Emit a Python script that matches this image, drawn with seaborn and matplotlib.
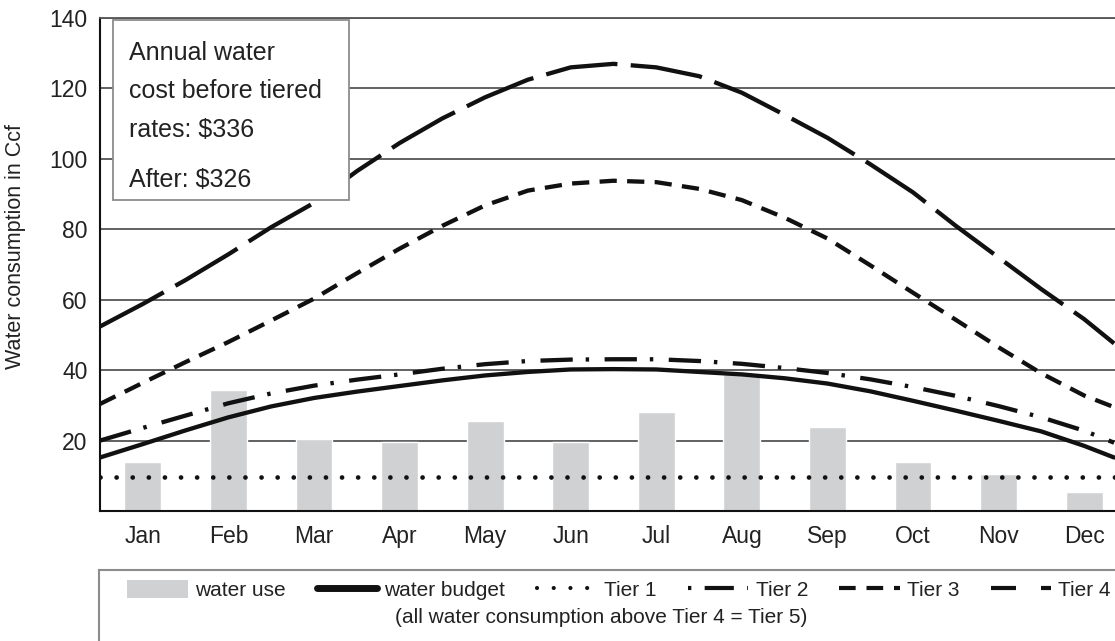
import matplotlib
matplotlib.use("Agg")
import matplotlib.pyplot as plt
from matplotlib.lines import Line2D
from matplotlib.patches import Patch, Rectangle
import seaborn as sns
import pandas as pd

# monthly water use (bars)
months = ['Jan', 'Feb', 'Mar', 'Apr', 'May', 'Jun', 'Jul', 'Aug', 'Sep', 'Oct', 'Nov', 'Dec']
water_use = [14, 34.5, 20.5, 19.5, 25.5, 19.5, 28, 39, 24, 14, 10.5, 5.5]

# curves read at half-month steps (0 = Jan)
curve_pos = [-0.5, 0, 0.5, 1, 1.5, 2, 2.5, 3, 3.5, 4, 4.5, 5, 5.5,
             6, 6.5, 7, 7.5, 8, 8.5, 9, 9.5, 10, 10.5, 11, 11.35]
water_budget = [15.2, 19, 22.9, 26.6, 29.7, 32.1, 33.9, 35.5, 37.1, 38.5, 39.5, 40.2, 40.3,
                40.2, 39.5, 38.8, 37.7, 36.2, 34, 31.3, 28.5, 25.6, 22.6, 18.5, 15.2]
tier1_pos = [-0.5, 11.5]
tier1 = [9.6, 9.6]
tier2 = [20, 23.6, 27.1, 30.6, 33.4, 35.6, 37.3, 38.8, 40.4, 41.7, 42.6, 43, 43.1,
         43.1, 42.6, 41.8, 40.6, 39.2, 37.4, 35.2, 32.7, 29.8, 26.6, 22.8, 19.4]
tier3 = [30.4, 36.4, 42.3, 48, 54.1, 60.3, 67.5, 74.5, 81, 86.8, 91, 93, 93.8,
         93.4, 91.5, 88.3, 83.3, 77.4, 69.8, 62, 54.3, 46.5, 39.1, 32.8, 29.5]
tier4 = [52.4, 58.8, 65.6, 72.9, 80.6, 87.5, 96.5, 104.5, 111.5, 117.5, 122.5, 126, 127,
         126, 123.5, 118.8, 112.5, 106, 98.5, 90.5, 81, 72, 63, 54.5, 47.6]

sns.set_theme(style="white")
plt.rcParams['font.family'] = ['Liberation Sans', 'DejaVu Sans']
text_col = '#222222'
bar_col = '#cfd1d3'
line_col = '#111111'

fig = plt.figure(figsize=(11.15, 6.41), dpi=100)
ax = fig.add_axes([0.0897, 0.2028, 0.921, 0.769])

bars = pd.DataFrame({'month': months, 'use': water_use})
sns.barplot(data=bars, x='month', y='use', color=bar_col, saturation=1,
            width=0.43, ax=ax, zorder=2)

curves = pd.DataFrame({'pos': curve_pos, 'budget': water_budget,
                       'tier2': tier2, 'tier3': tier3, 'tier4': tier4})
t1 = pd.DataFrame({'pos': tier1_pos, 'tier1': tier1})

sns.lineplot(data=t1, x='pos', y='tier1', color=line_col, linewidth=3.4,
             linestyle=(0, (0.01, 3.4)), dash_capstyle='round', ax=ax, zorder=4)
sns.lineplot(data=curves, x='pos', y='budget', color=line_col, linewidth=3.1, ax=ax, zorder=4)
sns.lineplot(data=curves, x='pos', y='tier2', color=line_col, linewidth=3.1,
             linestyle=(0, (7.5, 3.0, 0.8, 3.6)), ax=ax, zorder=4)
sns.lineplot(data=curves, x='pos', y='tier3', color=line_col, linewidth=3.1,
             linestyle=(0, (4.0, 2.4)), ax=ax, zorder=4)
sns.lineplot(data=curves, x='pos', y='tier4', color=line_col, linewidth=3.1,
             linestyle=(0, (16.8, 3.1)), ax=ax, zorder=4)

ax.set_xlim(-0.5, 11.5)
ax.set_ylim(0, 140)
ax.set_yticks([20, 40, 60, 80, 100, 120, 140])
ax.yaxis.grid(True, color='#555555', linewidth=1.3)
ax.set_axisbelow(True)
ax.tick_params(axis='both', length=0, labelsize=16.5, colors=text_col)
ax.tick_params(axis='y', pad=9)
ax.tick_params(axis='x', pad=10)
ax.set_xlabel('')
ax.set_ylabel('Water consumption in Ccf', fontsize=15.5, color=text_col)
ax.yaxis.set_label_coords(-0.072, 0.537)
for side in ['left', 'bottom']:
    ax.spines[side].set_color('#111111')
    ax.spines[side].set_linewidth(1.5)
ax.spines['top'].set_color('#555555')
ax.spines['top'].set_linewidth(1.3)
ax.spines['right'].set_visible(False)

# cost box
ax.add_patch(Rectangle((0.0127, 0.631), 0.23, 0.365, transform=ax.transAxes,
                       facecolor='white', edgecolor='#8c8c8c', linewidth=1.3,
                       zorder=6, clip_on=False))
box_lines = ['Annual water', 'cost before tiered', 'rates: $336', 'After: $326']
box_y = [0.915, 0.838, 0.759, 0.657]
for txt, yy in zip(box_lines, box_y):
    ax.text(0.028, yy, txt, transform=ax.transAxes, fontsize=18, color=text_col,
            va='baseline', ha='left', zorder=7)

# legend panel
lax = fig.add_axes([0.0888, -0.06, 0.95, 0.171])
lax.set_xticks([])
lax.set_yticks([])
for sp in lax.spines.values():
    sp.set_color('#8c8c8c')
    sp.set_linewidth(1.5)

handles = [
    Patch(facecolor=bar_col, edgecolor='none'),
    Line2D([], [], color=line_col, linewidth=5),
    Line2D([], [], color=line_col, linewidth=3, linestyle=(0, (0.01, 4)), dash_capstyle='round'),
    Line2D([], [], color=line_col, linewidth=3, linestyle=(0, (0.8, 3.2, 7.0, 3.2, 0.8, 30))),
    Line2D([], [], color=line_col, linewidth=3, linestyle=(0, (4, 2.6))),
    Line2D([], [], color=line_col, linewidth=3, linestyle=(0, (6, 6))),
]
labels = ['water use', 'water budget', 'Tier 1', 'Tier 2', 'Tier 3', 'Tier 4']
leg = fig.legend(handles, labels, loc='center left', bbox_to_anchor=(0.114, 0.0796),
                 ncol=6, frameon=False, fontsize=15, handlelength=2.9, handleheight=0.95,
                 handletextpad=0.35, columnspacing=1.5, borderpad=0, borderaxespad=0)
for t in leg.get_texts():
    t.set_color(text_col)
fig.text(0.539, 0.0359, '(all water consumption above Tier 4 = Tier 5)',
         ha='center', va='center', fontsize=15, color=text_col)

fig.savefig('out.png', dpi=100)
